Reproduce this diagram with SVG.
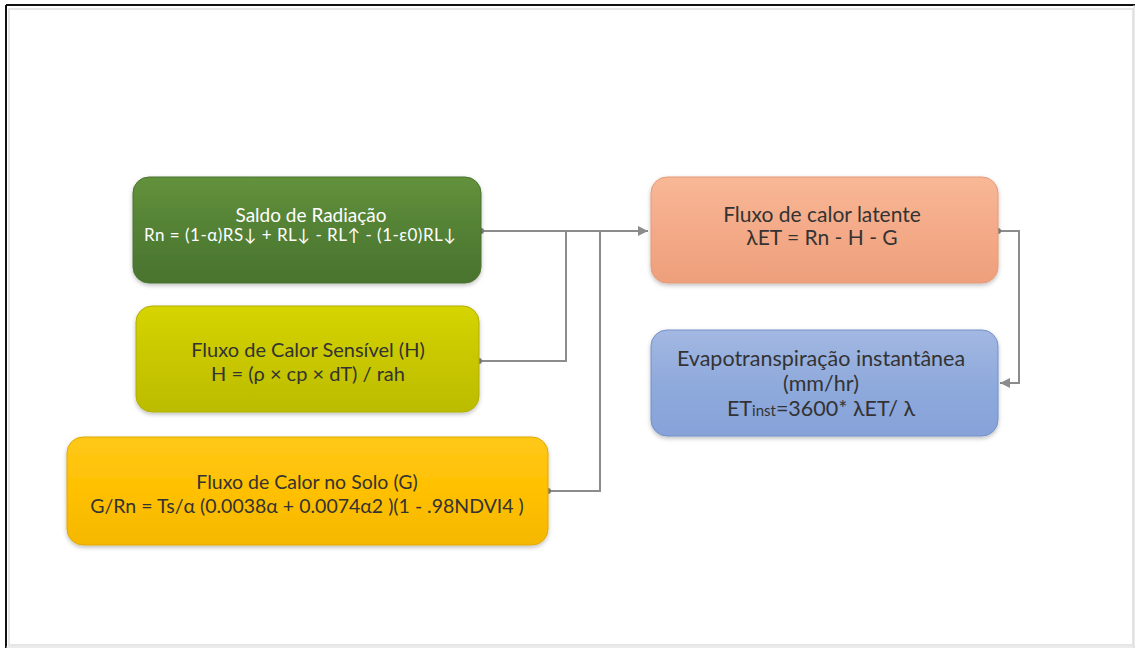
<svg xmlns="http://www.w3.org/2000/svg" width="1135" height="648" viewBox="0 0 1135 648">
<style>
.t{font-family:Lato,"Liberation Sans",sans-serif;text-anchor:middle}
.w{fill:#ffffff}
.d{fill:#333333}
.c{fill:none;stroke:#8c8c8c;stroke-width:2}
</style>
<defs>
<linearGradient id="gG" x1="0" y1="0" x2="0" y2="1"><stop offset="0" stop-color="#63923b"/><stop offset="0.5" stop-color="#538135"/><stop offset="1" stop-color="#49732e"/></linearGradient>
<linearGradient id="gY" x1="0" y1="0" x2="0" y2="1"><stop offset="0" stop-color="#d6d400"/><stop offset="0.5" stop-color="#c8c700"/><stop offset="1" stop-color="#bcbc00"/></linearGradient>
<linearGradient id="gO" x1="0" y1="0" x2="0" y2="1"><stop offset="0" stop-color="#ffc81a"/><stop offset="0.5" stop-color="#ffc000"/><stop offset="1" stop-color="#f5b800"/></linearGradient>
<linearGradient id="gS" x1="0" y1="0" x2="0" y2="1"><stop offset="0" stop-color="#f8b896"/><stop offset="0.5" stop-color="#f4aa88"/><stop offset="1" stop-color="#ee9f7c"/></linearGradient>
<linearGradient id="gB" x1="0" y1="0" x2="0" y2="1"><stop offset="0" stop-color="#a3b8e2"/><stop offset="0.5" stop-color="#8faadc"/><stop offset="1" stop-color="#86a2d8"/></linearGradient>
<filter id="sh" x="-5%" y="-10%" width="110%" height="125%"><feDropShadow dx="0" dy="2" stdDeviation="2" flood-color="#000" flood-opacity="0.25"/></filter>
<marker id="ar" viewBox="0 0 10 10" refX="10" refY="5" markerWidth="5" markerHeight="5" orient="auto" markerUnits="strokeWidth"><path d="M0,0 L10,5 L0,10 z" fill="#8c8c8c"/></marker>
</defs>
<rect x="0" y="0" width="1135" height="648" fill="#ffffff"/>
<rect x="9" y="9" width="1124" height="636" fill="none" stroke="#e6e6e6" stroke-width="2"/>
<line x1="6" y1="5" x2="1135" y2="5" stroke="#111" stroke-width="2"/>
<line x1="6" y1="5" x2="6" y2="648" stroke="#111" stroke-width="2"/>
<line x1="1134" y1="5" x2="1134" y2="648" stroke="#d8d8d8" stroke-width="1"/>
<line x1="6" y1="647" x2="1135" y2="647" stroke="#d8d8d8" stroke-width="1"/>

<g id="connectors">
<path class="c" d="M481,231 H648" marker-end="url(#ar)"/>
<path class="c" d="M479,361 H566 V231"/>
<path class="c" d="M548,491 H600 V231"/>
<path class="c" d="M998,231 H1019 V383 H1000" marker-end="url(#ar)"/>
<circle cx="481" cy="231" r="3" fill="#7f7f7f"/>
<circle cx="479" cy="361" r="3" fill="#7f7f7f"/>
<circle cx="548" cy="491" r="3" fill="#7f7f7f"/>
<circle cx="998" cy="231" r="3" fill="#7f7f7f"/>
</g>

<g id="saldo">
<rect x="133" y="177" width="348" height="106" rx="16" fill="url(#gG)" stroke="#4a7330" stroke-width="1" filter="url(#sh)"/>
<text class="t w" x="311" y="222" font-size="19">Saldo de Radiação</text>
<text class="t w" x="300" y="241" font-size="17" textLength="312" lengthAdjust="spacing">Rn = (1-α)RS↓ + RL↓ - RL↑ - (1-ε0)RL↓</text>
</g>

<g id="sensivel">
<rect x="136" y="306" width="343" height="106" rx="16" fill="url(#gY)" stroke="#b0ae00" stroke-width="1" filter="url(#sh)"/>
<text class="t d" x="308" y="357" font-size="20">Fluxo de Calor Sensível (H)</text>
<text class="t d" x="308" y="381" font-size="20">H = (ρ × cp × dT) / rah</text>
</g>

<g id="solo">
<rect x="67" y="437" width="481" height="108" rx="16" fill="url(#gO)" stroke="#e0a800" stroke-width="1" filter="url(#sh)"/>
<text class="t d" x="307" y="489" font-size="19.5">Fluxo de Calor no Solo (G)</text>
<text class="t d" x="307" y="513" font-size="19.5">G/Rn = Ts/α (0.0038α + 0.0074α2 )(1 - .98NDVI4 )</text>
</g>

<g id="latente">
<rect x="651" y="177" width="347" height="106" rx="16" fill="url(#gS)" stroke="#e39a78" stroke-width="1" filter="url(#sh)"/>
<text class="t d" x="822" y="222" font-size="21">Fluxo de calor latente</text>
<text class="t d" x="822" y="245" font-size="21">λET = Rn - H - G</text>
</g>

<g id="evapo">
<rect x="651" y="330" width="347" height="106" rx="16" fill="url(#gB)" stroke="#7290c8" stroke-width="1" filter="url(#sh)"/>
<text class="t d" x="821" y="366" font-size="21.5">Evapotranspiração instantânea</text>
<text class="t d" x="821" y="391" font-size="21.5">(mm/hr)</text>
<text class="t d" x="821" y="416" font-size="21.5">ET<tspan font-size="15">inst</tspan>=3600* λET/ λ</text>
</g>
</svg>
